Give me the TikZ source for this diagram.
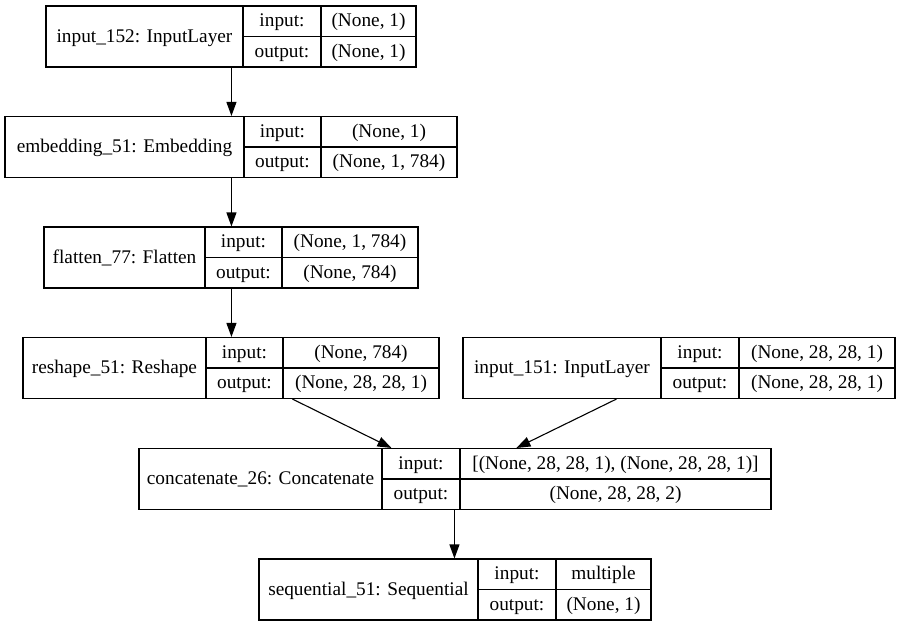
\documentclass[tikz,border=0pt]{standalone}
\usepackage{fontspec}
\setmainfont{Liberation Serif}
\usetikzlibrary{arrows.meta}
% record box: name, left, div1, div2, right, top, label, input shape, output shape
\newcommand{\recbox}[9]{%
  \pgfmathsetmacro\rbw{#5-#2}%
  \node[recframe, minimum width=\rbw pt, minimum height=61pt] (#1) at ({(#2+#5)/2},{#6+30.5}) {};
  \draw[recline] (#3,#6) -- (#3,#6+61) (#4,#6) -- (#4,#6+61) (#3,#6+30.5) -- (#5,#6+30.5);
  \node[rectext] at ({(#2+#3)/2},{#6+30.5}) {#7};
  \node[rectext] at ({(#3+#4)/2},{#6+15.25}) {input:};
  \node[rectext] at ({(#3+#4)/2},{#6+45.75}) {output:};
  \node[rectext] at ({(#4+#5)/2},{#6+15.25}) {#8};
  \node[rectext] at ({(#4+#5)/2},{#6+45.75}) {#9};
}
\begin{document}
\begin{tikzpicture}[x=1pt,y=-1pt,
  recframe/.style={draw, line width=1.1pt, inner sep=0pt, rectangle},
  recline/.style={line width=1.1pt},
  rectext/.style={inner sep=0pt, text height=11pt, text depth=0pt, font=\fontsize{19.3}{22}\selectfont},
  edge/.style={line width=1.1pt, -{Triangle[length=14pt,width=10pt]}}]
\useasboundingbox (0,0) rectangle (900,627);

\recbox{n1}{46}{243}{321}{416}{6}{input\_152: InputLayer}{(None, 1)}{(None, 1)}
\recbox{n2}{5}{244}{321}{457}{116.5}{embedding\_51: Embedding}{(None, 1)}{(None, 1, 784)}
\recbox{n3}{44}{205}{282}{418}{227}{flatten\_77: Flatten}{(None, 1, 784)}{(None, 784)}
\recbox{n4}{23}{206}{283}{439}{337.5}{reshape\_51: Reshape}{(None, 784)}{(None, 28, 28, 1)}
\recbox{n5}{463}{661}{739}{895}{337.5}{input\_151: InputLayer}{(None, 28, 28, 1)}{(None, 28, 28, 1)}
\recbox{n6}{139}{382}{460}{771}{448.5}{concatenate\_26: Concatenate}{[(None, 28, 28, 1), (None, 28, 28, 1)]}{(None, 28, 28, 2)}
\recbox{n7}{259}{478}{556}{651}{559}{sequential\_51: Sequential}{multiple}{(None, 1)}

\draw[edge] ([xshift=186pt]n1.south west) -- ([xshift=227pt]n2.north west);
\draw[edge] ([xshift=227pt]n2.south west) -- ([xshift=188pt]n3.north west);
\draw[edge] ([xshift=188pt]n3.south west) -- ([xshift=209pt]n4.north west);
\draw[edge] ([xshift=270pt]n4.south west) -- ([xshift=253pt]n6.north west);
\draw[edge] ([xshift=154pt]n5.south west) -- ([xshift=378pt]n6.north west);
\draw[edge] ([xshift=316pt]n6.south west) -- ([xshift=196pt]n7.north west);
\end{tikzpicture}
\end{document}
